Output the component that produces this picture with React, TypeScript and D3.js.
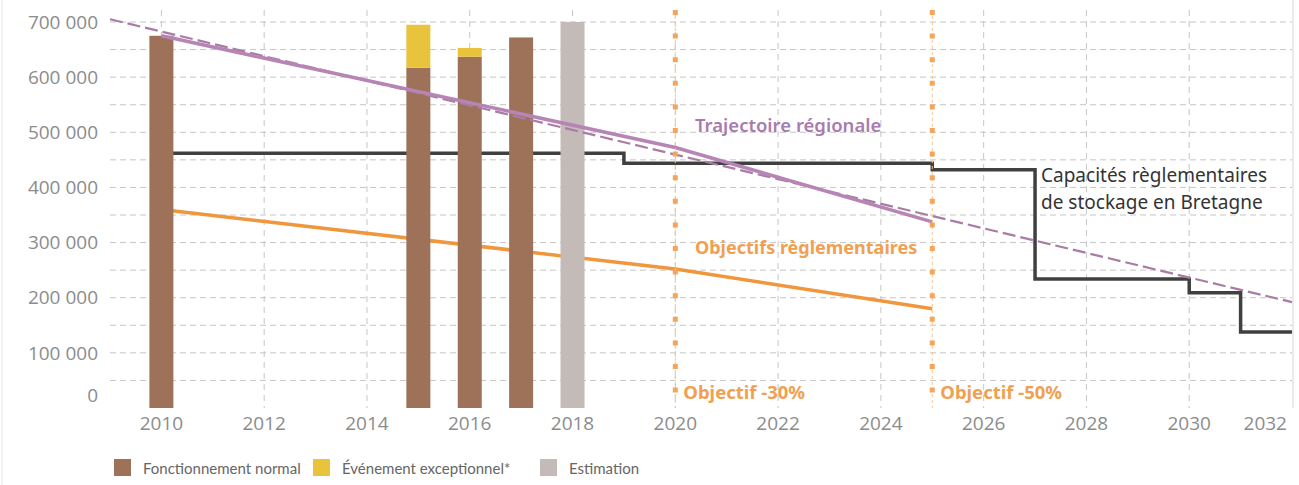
import React from 'react';
import * as d3 from 'd3';

// bars
const barYears = [2010, 2015, 2016, 2017, 2018];
const normalValues = [675000, 617000, 637000, 672000, 0];
const exceptionalValues = [0, 78000, 16000, 0, 0];
const estimationValues = [0, 0, 0, 0, 700000];

// capacités règlementaires de stockage (step line)
const capYears = [2010, 2019, 2025, 2027, 2030, 2031, 2032];
const capValues = [462000, 444000, 432000, 234000, 209000, 138000, 138000];

// trajectoire régionale
const trajYears = [2010, 2020, 2025];
const trajValues = [675000, 472500, 337500];
const trendYears = [2009, 2032];
const trendValues = [705000, 192000];

// objectifs règlementaires
const objYears = [2010, 2020, 2025];
const objValues = [360000, 252000, 180000];

const markerYears = [2020, 2025];
const markerLabels = ['Objectif -30%', 'Objectif -50%'];

const yTicks = [0, 100000, 200000, 300000, 400000, 500000, 600000, 700000];
const yGrid = d3.range(50000, 700001, 50000);
const xTicks = [2010, 2012, 2014, 2016, 2018, 2020, 2022, 2024, 2026, 2028, 2030, 2032];

const legendItems = [
    { label: 'Fonctionnement normal', color: '#9D7258' },
    { label: 'Événement exceptionnel*', color: '#E9C33C' },
    { label: 'Estimation', color: '#C4BBB8' },
];

const W = 1299;
const H = 485;

const App: React.FC = () => {
    const x = d3.scaleLinear().domain([2009, 2032]).range([110, 1292]);
    const y = d3.scaleLinear().domain([0, 700000]).range([408, 22]);
    const barW = 24;
    const fmt = (v: number) => d3.format(',')(v).replace(/,/g, ' ');

    const line = d3.line<[number, number]>().x(d => x(d[0])).y(d => y(d[1]));
    const step = d3.line<[number, number]>().x(d => x(d[0])).y(d => y(d[1])).curve(d3.curveStepAfter);

    const zip = (a: number[], b: number[]) => a.map((v, i) => [v, b[i]] as [number, number]);

    const tickFont = '"Open Sans", sans-serif';
    const noteFont = '"Noto Sans", sans-serif';

    return (
        <div style={{ position: 'absolute', left: 0, top: 0 }}>
            <svg width={W} height={H} style={{ display: 'block', background: '#fff' }}>
                {/* frame */}
                <line x1={2} x2={2} y1={0} y2={H} stroke="#e6e6e6" />
                <line x1={1293} x2={1293} y1={0} y2={408} stroke="#d6d6d6" />

                {/* grid */}
                {yGrid.map(v => (
                    <line key={'gy' + v} x1={110} x2={1292} y1={y(v)} y2={y(v)}
                        stroke="#c6c6c6" strokeDasharray="6 4" strokeWidth={1} />
                ))}
                {xTicks.filter(t => t < 2032).map(t => (
                    <line key={'gx' + t} x1={x(t)} x2={x(t)} y1={10} y2={408}
                        stroke="#c6c6c6" strokeDasharray="6 5" strokeWidth={1} />
                ))}

                {/* y tick labels */}
                {yTicks.map(v => (
                    <text key={'yt' + v} x={98} y={v === 0 ? y(0) - 13 : y(v)} dy="0.35em"
                        textAnchor="end" fontFamily={tickFont} fontSize={19} fill="#8c8c8c">
                        {fmt(v)}
                    </text>
                ))}

                {/* x tick labels */}
                {xTicks.map((t, i) => (
                    <text key={'xt' + t} x={i === xTicks.length - 1 ? x(t) - 5 : x(t)} y={430}
                        textAnchor={i === xTicks.length - 1 ? 'end' : 'middle'}
                        fontFamily={tickFont} fontSize={19} fill="#8c8c8c">
                        {t}
                    </text>
                ))}

                {/* capacity step line (behind bars) */}
                <path d={step(zip(capYears, capValues)) || ''} fill="none" stroke="#404040" strokeWidth={3.5} />

                {/* objectives line */}
                <path d={line(zip(objYears, objValues)) || ''} fill="none" stroke="#F0963C" strokeWidth={3.5} />

                {/* bars */}
                {barYears.map((yr, i) => (
                    <g key={'b' + yr}>
                        {normalValues[i] > 0 && (
                            <rect x={x(yr) - barW / 2} width={barW} y={y(normalValues[i])}
                                height={y(0) - y(normalValues[i])} fill="#9D7258" />
                        )}
                        {exceptionalValues[i] > 0 && (
                            <rect x={x(yr) - barW / 2} width={barW} y={y(normalValues[i] + exceptionalValues[i])}
                                height={y(normalValues[i]) - y(normalValues[i] + exceptionalValues[i])} fill="#E9C33C" />
                        )}
                        {estimationValues[i] > 0 && (
                            <rect x={x(yr) - barW / 2} width={barW} y={y(estimationValues[i])}
                                height={y(0) - y(estimationValues[i])} fill="#C4BBB8" />
                        )}
                    </g>
                ))}

                {/* regional trajectory */}
                <path d={line(zip(trendYears, trendValues)) || ''} fill="none" stroke="#A97CA4"
                    strokeWidth={2.2} strokeDasharray="13 5" />
                <path d={line(zip(trajYears, trajValues)) || ''} fill="none" stroke="#B784B6" strokeWidth={3.5} />

                {/* objective markers */}
                {markerYears.map((yr, i) => (
                    <g key={'m' + yr}>
                        <line x1={x(yr)} x2={x(yr)} y1={10} y2={408} stroke="#F7C28E" strokeWidth={1} strokeDasharray="3 3" />
                        <line x1={x(yr)} x2={x(yr)} y1={10} y2={406} stroke="#F4A55A" strokeWidth={5}
                            strokeDasharray="5 18.6" />
                        <text x={x(yr) + 8} y={399} fontFamily={noteFont} fontWeight={700}
                            fontSize={18.5} fill="#F0A050">{markerLabels[i]}</text>
                    </g>
                ))}

                {/* annotations */}
                <text x={695} y={132} fontFamily={noteFont} fontWeight={600} fontSize={18.5} fill="#A97BAE">
                    Trajectoire régionale
                </text>
                <text x={695} y={254} fontFamily={noteFont} fontWeight={700} fontSize={18} fill="#F0A050">
                    Objectifs règlementaires
                </text>
                <text x={1041} y={182} fontFamily={noteFont} fontSize={19} fill="#333">
                    Capacités règlementaires
                </text>
                <text x={1041} y={209} fontFamily={noteFont} fontSize={19} fill="#333">
                    de stockage en Bretagne
                </text>

                {/* legend */}
                {legendItems.map((it, i) => {
                    const lx = [114, 313, 540][i];
                    return (
                        <g key={'l' + i}>
                            <rect x={lx} y={459} width={17} height={17} fill={it.color} />
                            <text x={lx + 29} y={474} fontFamily="Lato, sans-serif" fontSize={15} fill="#666">
                                {it.label}
                            </text>
                        </g>
                    );
                })}
            </svg>
        </div>
    );
};

export default App;
